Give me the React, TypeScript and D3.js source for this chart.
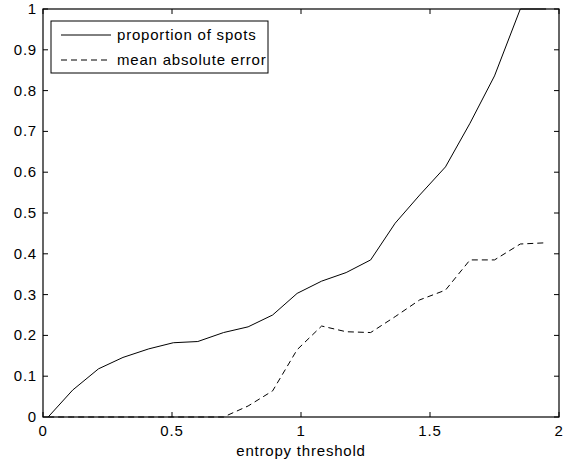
import React, { useRef, useEffect } from 'react';
import * as d3 from 'd3';

// entropy threshold values (x)
const thresholds = [0.02, 0.115, 0.215, 0.31, 0.41, 0.505, 0.6, 0.7, 0.795, 0.89, 0.985, 1.08, 1.175, 1.27, 1.365, 1.46, 1.56, 1.655, 1.75, 1.85, 1.95];
const proportionOfSpots = [0, 0.066, 0.118, 0.146, 0.167, 0.182, 0.185, 0.207, 0.221, 0.25, 0.303, 0.333, 0.354, 0.385, 0.475, 0.544, 0.613, 0.72, 0.836, 1.0, 1.0];
const meanAbsoluteError = [0, 0, 0, 0, 0, 0, 0, 0, 0.027, 0.064, 0.165, 0.223, 0.209, 0.207, 0.246, 0.287, 0.311, 0.385, 0.385, 0.424, 0.427];

const xTicks = [0, 0.5, 1, 1.5, 2];
const yTicks = [0, 0.1, 0.2, 0.3, 0.4, 0.5, 0.6, 0.7, 0.8, 0.9, 1];
const legendLabels = ['proportion of spots', 'mean absolute error'];

const W = 571;
const H = 463;
const FONT = '"Liberation Sans", Arial, Helvetica, sans-serif';

const App = () => {
  const svgRef = useRef<SVGSVGElement>(null);

  useEffect(() => {
    draw();
  }, []);

  const draw = () => {
    const svg = d3.select(svgRef.current);
    svg.selectAll('*').remove();

    const margin = { top: 9, right: 12, bottom: 46, left: 43 };
    const x = d3.scaleLinear().domain([0, 2]).range([margin.left, W - margin.right]);
    const y = d3.scaleLinear().domain([0, 1]).range([H - margin.bottom, margin.top]);
    const tick = 5;

    const g = svg.append('g');

    // series
    const pts = (vals: number[]) => vals.map((v, i) => [thresholds[i], v] as [number, number]);
    const line = d3.line<[number, number]>()
      .x(d => x(d[0]))
      .y(d => y(d[1]));

    g.append('path')
      .attr('d', line(pts(proportionOfSpots)))
      .attr('fill', 'none')
      .attr('stroke', '#000')
      .attr('stroke-width', 1);

    g.append('path')
      .attr('d', line(pts(meanAbsoluteError)))
      .attr('fill', 'none')
      .attr('stroke', '#000')
      .attr('stroke-width', 1)
      .attr('stroke-dasharray', '6,4');

    // frame
    const x0 = x(0), x1 = x(2), y0 = y(0), y1 = y(1);
    g.append('rect')
      .attr('x', x0).attr('y', y1)
      .attr('width', x1 - x0).attr('height', y0 - y1)
      .attr('fill', 'none')
      .attr('stroke', '#000')
      .attr('stroke-width', 1.2);

    // x ticks (bottom and top, inward)
    xTicks.forEach(t => {
      g.append('line').attr('x1', x(t)).attr('x2', x(t)).attr('y1', y0).attr('y2', y0 - tick).attr('stroke', '#000');
      g.append('line').attr('x1', x(t)).attr('x2', x(t)).attr('y1', y1).attr('y2', y1 + tick).attr('stroke', '#000');
    });
    g.selectAll('.xlab')
      .data(xTicks)
      .enter()
      .append('text')
      .attr('x', d => x(d))
      .attr('y', y0 + 19)
      .attr('text-anchor', 'middle')
      .text(d => String(d));

    // y ticks (left and right, inward)
    yTicks.forEach(t => {
      g.append('line').attr('x1', x0).attr('x2', x0 + tick).attr('y1', y(t)).attr('y2', y(t)).attr('stroke', '#000');
      g.append('line').attr('x1', x1).attr('x2', x1 - tick).attr('y1', y(t)).attr('y2', y(t)).attr('stroke', '#000');
    });
    g.selectAll('.ylab')
      .data(yTicks)
      .enter()
      .append('text')
      .attr('x', x0 - 6)
      .attr('y', d => y(d) + 5)
      .attr('text-anchor', 'end')
      .text(d => String(d));

    // x axis label
    g.append('text')
      .attr('x', (x0 + x1) / 2)
      .attr('y', y0 + 39)
      .attr('text-anchor', 'middle')
      .text('entropy threshold');

    // legend
    const lg = g.append('g');
    lg.append('rect')
      .attr('x', 51).attr('y', 21)
      .attr('width', 217).attr('height', 52)
      .attr('fill', '#fff')
      .attr('stroke', '#000')
      .attr('stroke-width', 1);
    legendLabels.forEach((lab, i) => {
      const ly = 35 + i * 25;
      lg.append('line')
        .attr('x1', 61).attr('x2', 111)
        .attr('y1', ly).attr('y2', ly)
        .attr('stroke', '#000')
        .attr('stroke-dasharray', i === 1 ? '6,4' : null);
      lg.append('text')
        .attr('x', 117)
        .attr('y', ly + 5)
        .text(lab);
    });

    svg.selectAll('text')
      .attr('font-family', FONT)
      .attr('font-size', 15)
      .attr('letter-spacing', 0.8)
      .attr('fill', '#000');
  };

  return (
    <svg
      ref={svgRef}
      width={W}
      height={H}
      style={{ position: 'absolute', left: 0, top: 0, background: '#fff' }}
    />
  );
};

export default App;
